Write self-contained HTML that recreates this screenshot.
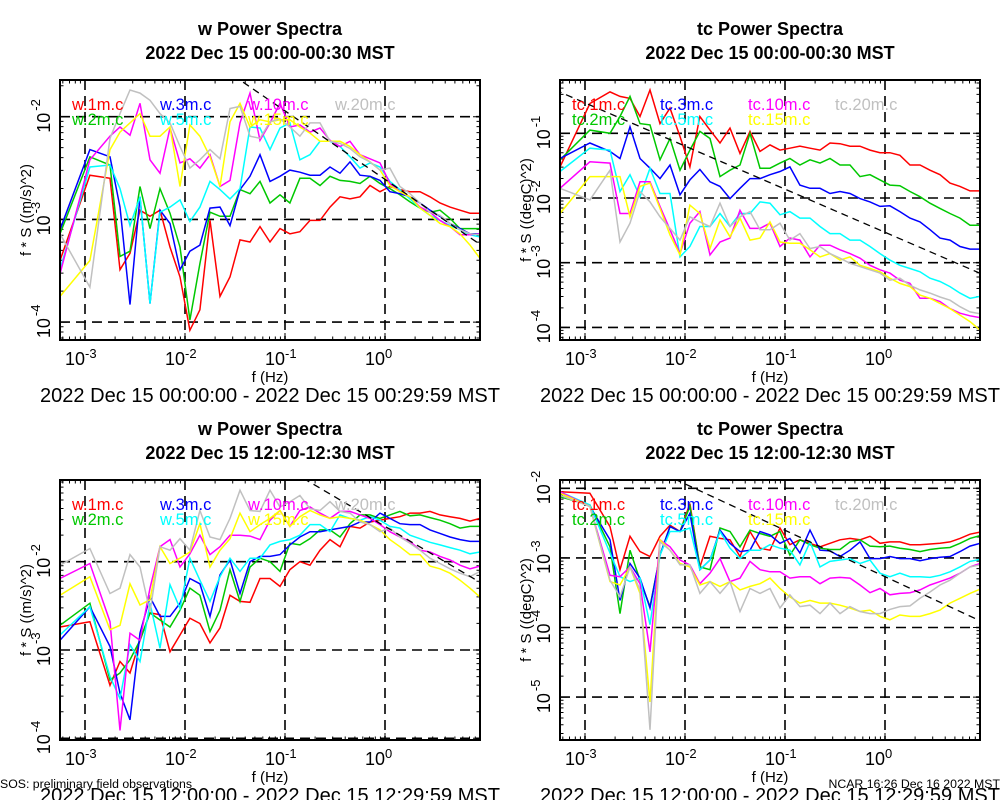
<!DOCTYPE html>
<html><head><meta charset="utf-8"><style>
html,body{margin:0;padding:0;background:#fff;}
svg{display:block;font-family:"Liberation Sans",Arial,sans-serif;}
</style></head><body>
<svg id="chart" width="1000" height="800" viewBox="0 0 1000 800" xmlns="http://www.w3.org/2000/svg">
<text x="0" y="788" font-size="12.3">SOS: preliminary field observations</text>
<text x="1000" y="788" font-size="12.3" text-anchor="end">NCAR 16:26 Dec 16 2022 MST</text>
</svg>
<script>
// Frequencies (Hz)
const freqs = [0.000562,0.00112,0.00178,0.00224,0.00282,0.00355,0.00447,0.00562,0.00708,0.00891,0.0112,0.0141,0.0178,0.0224,0.0282,0.0355,0.0447,0.0562,0.0708,0.0891,0.112,0.141,0.178,0.224,0.282,0.355,0.447,0.562,0.708,0.891,1.12,1.41,1.78,2.24,2.82,3.55,4.47,5.62,7.08,8.91];
const seriesColors = ["#ff0000","#00c800","#0000ff","#00ffff","#ff00ff","#ffff00","#c0c0c0"];
const heights = ["1m","2m","3m","5m","10m","15m","20m"];
// log10(f*S) values, panel 1: w 00:00-00:30
const w1_1m = [-3.40,-2.57,-2.60,-3.49,-3.33,-2.91,-2.97,-2.91,-3.27,-3.56,-4.08,-3.88,-3.01,-3.75,-3.56,-3.20,-3.22,-3.07,-3.22,-3.09,-3.14,-3.12,-3.01,-3.01,-2.88,-2.78,-2.80,-2.78,-2.67,-2.73,-2.68,-2.71,-2.73,-2.73,-2.78,-2.84,-2.88,-2.91,-2.94,-2.94];
const w1_2m = [-3.14,-2.39,-2.47,-3.36,-3.31,-2.68,-3.09,-2.70,-2.94,-3.27,-3.98,-3.43,-2.93,-2.97,-2.97,-2.71,-2.75,-2.63,-2.84,-2.76,-2.84,-2.60,-2.60,-2.67,-2.58,-2.62,-2.63,-2.65,-2.58,-2.65,-2.70,-2.76,-2.83,-2.89,-2.93,-2.91,-2.99,-3.09,-3.09,-3.09];
const w1_3m = [-3.10,-2.32,-2.39,-2.88,-3.83,-2.78,-3.82,-2.91,-3.04,-3.49,-3.31,-3.25,-2.89,-2.88,-3.06,-2.71,-2.58,-2.37,-2.63,-2.58,-2.52,-2.54,-2.57,-2.57,-2.49,-2.55,-2.44,-2.57,-2.58,-2.62,-2.73,-2.75,-2.78,-2.84,-2.91,-2.97,-3.04,-3.09,-3.14,-3.14];
const w1_5m = [-3.49,-2.49,-2.47,-2.70,-3.06,-2.78,-3.82,-2.93,-2.88,-2.81,-3.02,-2.88,-2.63,-2.71,-2.80,-2.70,-2.10,-2.11,-2.32,-2.11,-2.06,-2.42,-2.37,-2.24,-2.24,-2.29,-2.39,-2.50,-2.45,-2.49,-2.63,-2.71,-2.80,-2.89,-2.96,-3.01,-3.06,-3.10,-3.15,-3.17];
const w1_10m = [-3.53,-2.42,-2.19,-2.10,-2.18,-1.87,-2.42,-2.55,-2.11,-2.45,-2.41,-2.50,-2.37,-2.68,-2.62,-2.06,-1.77,-2.23,-2.06,-1.87,-2.10,-2.08,-2.15,-2.11,-2.23,-2.29,-2.24,-2.37,-2.41,-2.45,-2.65,-2.73,-2.78,-2.88,-2.93,-3.01,-3.07,-3.15,-3.15,-3.14];
const w1_15m = [-3.75,-3.40,-2.32,-2.15,-2.06,-1.97,-2.19,-2.19,-2.10,-2.68,-2.08,-2.19,-2.39,-2.68,-2.05,-1.87,-2.10,-2.03,-2.05,-2.03,-2.03,-2.10,-2.16,-2.24,-2.24,-2.24,-2.29,-2.37,-2.44,-2.52,-2.67,-2.73,-2.78,-2.89,-2.96,-3.04,-3.07,-3.14,-3.25,-3.38];
const w1_20m = [-3.14,-3.66,-2.21,-1.97,-1.74,-1.77,-1.84,-1.97,-2.06,-2.29,-2.50,-2.42,-2.32,-2.41,-1.92,-1.90,-2.19,-2.21,-2.05,-2.02,-2.10,-2.19,-2.06,-2.06,-2.24,-2.26,-2.31,-2.39,-2.44,-2.52,-2.50,-2.68,-2.75,-2.84,-2.93,-2.96,-3.04,-3.10,-3.14,-3.15];
// panel 2: tc 00:00-00:30
const t1_1m = [-1.52,-0.54,-0.36,-0.43,-0.46,-0.74,-0.33,-0.85,-0.61,-1.05,-1.52,-0.74,-0.95,-1.15,-0.92,-1.31,-0.97,-1.28,-1.18,-1.26,-1.23,-1.20,-1.23,-1.26,-1.15,-1.16,-1.20,-1.20,-1.26,-1.30,-1.30,-1.34,-1.49,-1.49,-1.57,-1.64,-1.77,-1.82,-1.89,-1.89];
const t1_2m = [-1.41,-0.95,-1.00,-0.74,-0.43,-0.85,-0.87,-1.41,-1.08,-1.57,-1.26,-0.97,-1.08,-1.67,-1.57,-1.49,-1.00,-1.54,-1.54,-1.46,-1.39,-1.49,-1.41,-1.46,-1.39,-1.49,-1.49,-1.67,-1.64,-1.72,-1.80,-1.81,-1.90,-1.98,-2.08,-2.16,-2.24,-2.31,-2.42,-2.42];
const t1_3m = [-1.39,-1.15,-1.28,-1.39,-0.90,-1.39,-1.54,-1.70,-1.49,-1.95,-1.72,-1.56,-1.75,-1.82,-2.01,-1.85,-1.70,-1.70,-1.64,-1.59,-1.52,-1.80,-1.85,-1.85,-1.93,-1.90,-1.93,-2.01,-2.06,-2.13,-2.12,-2.21,-2.31,-2.37,-2.49,-2.62,-2.65,-2.75,-2.79,-2.79];
const t1_5m = [-1.59,-1.23,-1.26,-1.90,-1.64,-1.98,-1.54,-1.93,-1.93,-2.91,-2.75,-2.44,-2.44,-2.24,-2.44,-2.24,-2.24,-2.06,-2.08,-2.26,-2.21,-2.31,-2.31,-2.44,-2.55,-2.55,-2.65,-2.65,-2.75,-2.86,-2.96,-3.04,-3.09,-3.14,-3.24,-3.29,-3.37,-3.47,-3.55,-3.52];
const t1_10m = [-1.85,-1.44,-1.46,-2.24,-2.24,-1.75,-1.75,-2.13,-2.49,-2.86,-2.39,-2.21,-2.88,-2.68,-2.62,-2.19,-2.47,-2.47,-2.39,-2.75,-2.62,-2.65,-2.91,-2.73,-2.73,-2.80,-2.86,-2.93,-3.04,-3.11,-3.16,-3.27,-3.32,-3.55,-3.55,-3.60,-3.71,-3.78,-3.82,-3.85];
const t1_15m = [-2.24,-1.67,-1.67,-1.67,-2.29,-1.82,-1.77,-2.16,-2.57,-2.88,-2.11,-2.24,-2.78,-2.34,-2.60,-2.31,-2.65,-2.62,-2.37,-2.68,-2.70,-2.70,-2.80,-2.91,-2.86,-2.96,-2.91,-3.04,-3.09,-3.14,-3.24,-3.32,-3.37,-3.50,-3.55,-3.63,-3.71,-3.81,-3.91,-4.04];
const t1_20m = [-1.85,-2.03,-1.57,-2.68,-2.39,-1.90,-2.06,-2.29,-2.47,-2.65,-2.29,-2.37,-2.44,-2.08,-2.44,-2.29,-2.21,-2.49,-2.49,-2.39,-2.65,-2.55,-2.78,-2.75,-2.86,-2.93,-3.01,-3.06,-3.11,-3.16,-3.27,-3.24,-3.35,-3.42,-3.47,-3.53,-3.58,-3.68,-3.76,-3.79];
// panel 3: w 12:00-12:30
const w2_1m = [-2.74,-2.68,-3.40,-3.13,-3.26,-2.89,-2.58,-2.60,-3.02,-2.83,-2.64,-2.70,-2.92,-2.75,-2.38,-2.45,-2.46,-2.19,-2.19,-2.28,-2.09,-2.00,-2.04,-1.87,-1.75,-1.83,-1.60,-1.62,-1.55,-1.53,-1.51,-1.49,-1.45,-1.45,-1.43,-1.47,-1.49,-1.51,-1.54,-1.51];
const w2_2m = [-2.72,-2.47,-3.34,-3.26,-3.11,-2.89,-2.58,-2.66,-2.74,-2.55,-2.30,-2.38,-2.79,-2.55,-2.09,-2.45,-2.06,-1.96,-2.00,-2.11,-1.79,-1.81,-1.74,-1.64,-1.64,-1.72,-1.57,-1.47,-1.47,-1.51,-1.47,-1.43,-1.48,-1.47,-1.50,-1.53,-1.57,-1.62,-1.60,-1.60];
const w2_3m = [-2.89,-2.51,-2.96,-3.49,-3.79,-2.81,-2.40,-2.62,-2.62,-2.47,-2.19,-2.25,-2.62,-2.15,-1.98,-2.36,-2.00,-1.94,-1.94,-1.92,-1.81,-1.72,-1.66,-1.66,-1.64,-1.62,-1.60,-1.55,-1.55,-1.45,-1.51,-1.57,-1.58,-1.58,-1.64,-1.68,-1.72,-1.75,-1.77,-1.77];
const w2_5m = [-2.83,-2.51,-3.30,-3.55,-2.94,-3.13,-2.47,-2.98,-2.26,-2.53,-1.96,-2.21,-2.45,-2.17,-1.96,-2.11,-1.96,-1.96,-1.81,-1.77,-1.75,-1.70,-1.58,-1.58,-1.66,-1.47,-1.51,-1.53,-1.49,-1.53,-1.60,-1.62,-1.70,-1.74,-1.78,-1.81,-1.84,-1.87,-1.91,-1.89];
const w2_10m = [-2.19,-2.02,-2.68,-3.91,-2.81,-2.89,-2.30,-1.83,-1.75,-2.06,-1.91,-1.70,-1.92,-1.83,-1.70,-1.70,-1.71,-1.75,-1.53,-1.42,-1.60,-1.42,-1.38,-1.45,-1.51,-1.43,-1.43,-1.47,-1.51,-1.58,-1.66,-1.72,-1.77,-1.87,-1.89,-1.94,-1.98,-2.04,-2.08,-2.05];
const w2_15m = [-2.38,-2.17,-2.77,-2.72,-2.25,-2.49,-2.43,-1.83,-2.02,-1.96,-1.89,-1.57,-2.06,-1.87,-1.74,-1.45,-1.66,-1.58,-1.51,-1.42,-1.60,-1.49,-1.42,-1.47,-1.51,-1.49,-1.51,-1.53,-1.58,-1.64,-1.75,-1.83,-1.92,-1.92,-2.05,-2.08,-2.13,-2.21,-2.30,-2.40];
const w2_20m = [-2.04,-1.85,-2.36,-2.30,-1.92,-2.06,-2.57,-1.83,-1.87,-1.74,-1.87,-1.42,-1.72,-1.75,-1.51,-1.19,-1.42,-1.43,-1.19,-1.38,-1.32,-1.25,-1.40,-1.42,-1.32,-1.43,-1.45,-1.55,-1.58,-1.66,-1.62,-1.72,-1.79,-1.87,-1.96,-2.02,-2.08,-2.13,-2.17,-2.11];
// panel 4: tc 12:00-12:30
const t2_1m = [-2.05,-2.07,-2.55,-3.17,-2.69,-2.91,-2.98,-2.69,-2.53,-2.62,-2.22,-3.13,-2.69,-2.72,-2.74,-2.98,-2.62,-2.86,-2.89,-2.57,-2.81,-2.74,-2.79,-2.84,-2.79,-2.74,-2.72,-2.74,-2.69,-2.79,-2.77,-2.77,-2.81,-2.81,-2.80,-2.79,-2.77,-2.72,-2.66,-2.63];
const t2_2m = [-2.12,-2.24,-2.84,-3.80,-2.89,-3.32,-3.70,-2.96,-2.55,-2.62,-2.26,-3.13,-3.17,-2.57,-2.62,-2.84,-2.60,-2.65,-2.69,-2.62,-2.96,-2.74,-2.81,-2.86,-2.88,-2.88,-2.77,-2.74,-2.83,-2.84,-2.83,-2.86,-2.88,-2.91,-2.88,-2.86,-2.85,-2.79,-2.72,-2.68];
const t2_3m = [-2.07,-2.26,-2.74,-3.61,-3.08,-3.29,-3.72,-2.96,-2.55,-2.62,-2.36,-3.17,-3.03,-2.60,-2.79,-2.91,-2.89,-2.62,-2.67,-2.79,-2.72,-2.93,-2.60,-2.89,-2.90,-2.98,-2.89,-2.77,-3.01,-3.01,-2.98,-3.01,-3.01,-3.04,-3.01,-2.99,-2.98,-2.91,-2.83,-2.79];
const t2_5m = [-2.05,-2.24,-2.93,-3.27,-3.34,-3.29,-3.96,-2.96,-2.62,-2.62,-2.57,-3.17,-3.03,-2.62,-2.86,-3.01,-2.89,-2.89,-2.81,-2.86,-2.89,-3.10,-2.77,-3.13,-3.05,-3.03,-3.01,-3.08,-3.03,-3.22,-3.27,-3.22,-3.27,-3.27,-3.28,-3.25,-3.20,-3.13,-3.05,-3.02];
const t2_10m = [-2.05,-2.26,-3.25,-3.27,-3.13,-3.37,-4.35,-2.74,-2.84,-3.03,-3.10,-3.37,-3.22,-3.01,-3.34,-3.29,-3.05,-3.17,-3.20,-3.20,-3.29,-3.27,-3.27,-3.37,-3.29,-3.28,-3.29,-3.39,-3.50,-3.44,-3.53,-3.51,-3.50,-3.46,-3.39,-3.34,-3.29,-3.22,-3.13,-3.08];
const t2_15m = [-2.07,-2.26,-3.34,-3.39,-3.13,-3.51,-5.07,-2.74,-2.89,-3.08,-3.13,-3.39,-3.34,-3.41,-3.34,-3.46,-3.41,-3.37,-3.29,-3.44,-3.56,-3.65,-3.61,-3.65,-3.65,-3.68,-3.72,-3.77,-3.75,-3.84,-3.89,-3.82,-3.84,-3.84,-3.80,-3.75,-3.65,-3.58,-3.51,-3.45];
const t2_20m = [-2.10,-2.26,-3.32,-3.56,-3.13,-3.46,-5.47,-2.77,-2.89,-3.10,-3.10,-3.51,-3.34,-3.51,-3.34,-3.77,-3.44,-3.51,-3.44,-3.72,-3.53,-3.70,-3.68,-3.80,-3.65,-3.80,-3.70,-3.77,-3.80,-3.80,-3.74,-3.70,-3.69,-3.58,-3.49,-3.39,-3.32,-3.22,-3.13,-3.10];
// -2/3 slope reference line intercepts (log10 value at f=1 Hz)
const refIntercepts = [-2.61,-2.53,-1.60,-3.27];
const xTickExps = [-3,-2,-1,0];
const yTickExpsP1 = [-2,-3,-4];
const yTickExpsP2 = [-1,-2,-3,-4];
const yTickExpsP3 = [-2,-3,-4];
const yTickExpsP4 = [-2,-3,-4,-5];

const NS="http://www.w3.org/2000/svg";
const svg=document.getElementById('chart');
function mk(tag,attrs,parent){const e=document.createElementNS(NS,tag);for(const k in attrs)e.setAttribute(k,attrs[k]);(parent||svg).appendChild(e);return e;}

const panels=[
 {var:"w",unit:"(m/s)^2",key:"w",title2:"2022 Dec 15 00:00-00:30 MST",date:"2022 Dec 15 00:00:00 - 2022 Dec 15 00:29:59 MST",x0:60,y0:80,refY:116.7,refE:-2,ppd:102.7,ticks:yTickExpsP1,data:[w1_1m,w1_2m,w1_3m,w1_5m,w1_10m,w1_15m,w1_20m]},
 {var:"tc",unit:"(degC)^2",key:"tc",title2:"2022 Dec 15 00:00-00:30 MST",date:"2022 Dec 15 00:00:00 - 2022 Dec 15 00:29:59 MST",x0:560,y0:80,refY:133.3,refE:-1,ppd:64.7,ticks:yTickExpsP2,data:[t1_1m,t1_2m,t1_3m,t1_5m,t1_10m,t1_15m,t1_20m]},
 {var:"w",unit:"(m/s)^2",key:"w",title2:"2022 Dec 15 12:00-12:30 MST",date:"2022 Dec 15 12:00:00 - 2022 Dec 15 12:29:59 MST",x0:60,y0:480,refY:561.7,refE:-2,ppd:88.3,ticks:yTickExpsP3,data:[w2_1m,w2_2m,w2_3m,w2_5m,w2_10m,w2_15m,w2_20m]},
 {var:"tc",unit:"(degC)^2",key:"tc",title2:"2022 Dec 15 12:00-12:30 MST",date:"2022 Dec 15 12:00:00 - 2022 Dec 15 12:29:59 MST",x0:560,y0:480,refY:488.3,refE:-2,ppd:69.6,ticks:yTickExpsP4,data:[t2_1m,t2_2m,t2_3m,t2_5m,t2_10m,t2_15m,t2_20m]}
];
const W=420,H=260;
const legX=[12,100,188,275], legY=[30,45];

panels.forEach((p,pi)=>{
 const g=mk('g',{});
 
 
 const xs=lf=>p.x0+25+100*(lf+3);
 const ys=lv=>p.refY-(lv-p.refE)*p.ppd;
 const cx=p.x0+210;
 const clipId='clip'+pi;
 const cp=mk('clipPath',{id:clipId},g);mk('rect',{x:p.x0,y:p.y0,width:W,height:H},cp);
 const t1=mk('text',{x:cx,y:p.y0-45,'text-anchor':'middle','font-size':'18','font-weight':'bold'},g);t1.textContent=p.var+" Power Spectra";
 
 const t2=mk('text',{x:cx,y:p.y0-21,'text-anchor':'middle','font-size':'18','font-weight':'bold'},g);t2.textContent=p.title2;
 
 xTickExps.forEach(e=>{const l=mk('line',{x1:xs(e),x2:xs(e),y1:p.y0,y2:p.y0+H,stroke:'#000','stroke-width':'1.6','stroke-dasharray':'10 6'},g);
  });
 p.ticks.forEach(e=>{const l=mk('line',{x1:p.x0,x2:p.x0+W,y1:ys(e),y2:ys(e),stroke:'#000','stroke-width':'1.6','stroke-dasharray':'10 6'},g);
  });
 let tp='';
 for(let d=-4;d<=1;d++)for(let k=1;k<=9;k++){const lf=d+Math.log10(k);const x=xs(lf);if(x<p.x0||x>p.x0+W)continue;const L=k==1?7:3.5;tp+=`M${x},${p.y0+H}v${-L}M${x},${p.y0}v${L}`;}
 for(let d=-7;d<=1;d++)for(let k=1;k<=9;k++){const lv=d+Math.log10(k);const y=ys(lv);if(y<p.y0||y>p.y0+H)continue;const L=k==1?7:3.5;tp+=`M${p.x0},${y}h${L}M${p.x0+W},${y}h${-L}`;}
 const tk=mk('path',{d:tp,stroke:'#000','stroke-width':'1',fill:'none'},g);
 
 p.data.forEach((arr,si)=>{
  const d=arr.map((v,i)=>(i?'L':'M')+xs(Math.log10(freqs[i])).toFixed(1)+','+ys(v).toFixed(1)).join('');
  const pl=mk('path',{d:d,fill:'none',stroke:seriesColors[si],'stroke-width':'1.5','stroke-linejoin':'miter','clip-path':`url(#${clipId})`},g);
  
  
 });
 const a=refIntercepts[pi];
 const rl=mk('line',{x1:xs(-3.3),y1:ys(a+2/3*3.3),x2:xs(1),y2:ys(a-2/3),stroke:'#000','stroke-width':'1.3','stroke-dasharray':'7 5','clip-path':`url(#${clipId})`},g);
 
 heights.forEach((h,si)=>{
  const col=Math.floor(si/2), row=si%2;
  const lt=mk('text',{x:p.x0+legX[col],y:p.y0+legY[row],'font-size':'16.5',fill:seriesColors[si]},g);
  lt.textContent=p.key+'.'+h+'.c';
  
 });
 const bx=mk('rect',{x:p.x0,y:p.y0,width:W,height:H,fill:'none',stroke:'#000','stroke-width':'2'},g);
 
 xTickExps.forEach(e=>{const t=mk('text',{x:xs(e),y:p.y0+H+25,'font-size':'18','text-anchor':'end'},g);t.textContent='10';
  
  const s=mk('text',{x:xs(e),y:p.y0+H+18,'font-size':'13'},g);s.textContent=String(e);
  });
 p.ticks.forEach(e=>{const y=ys(e);
  const t=mk('text',{x:0,y:0,'font-size':'18','text-anchor':'start',transform:`translate(${p.x0-10},${y+16}) rotate(-90)`},g);t.textContent='10';
  
  const s=mk('text',{x:0,y:0,'font-size':'13',transform:`translate(${p.x0-20},${y-6}) rotate(-90)`},g);s.textContent=String(e);
  });
 const xt=mk('text',{x:cx,y:p.y0+H+42,'text-anchor':'middle','font-size':'15'},g);xt.textContent='f (Hz)';
 
 const yt=mk('text',{x:0,y:0,'text-anchor':'middle','font-size':'15',transform:`translate(${p.x0-29},${p.y0+130}) rotate(-90)`},g);yt.textContent='f * S ('+p.unit+')';
 
 const dt=mk('text',{x:p.x0-20,y:p.y0+H+62,'font-size':'20',textLength:'460',lengthAdjust:'spacingAndGlyphs'},g);dt.textContent=p.date;
 
});
</script>
</body></html>
